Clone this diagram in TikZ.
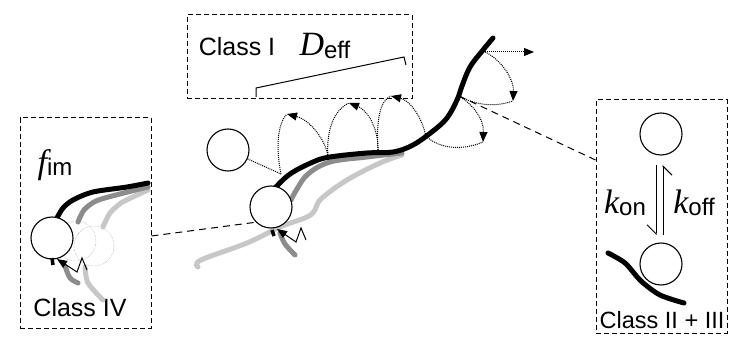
\documentclass[tikz,border=0pt]{standalone}
\usepackage{fontspec}
\setmainfont{Liberation Sans}
\newfontfamily\serifit{Liberation Serif}
\usetikzlibrary{arrows.meta}
\tikzset{>/.tip={Triangle[length=10pt,width=8pt]}}
\newcommand{\rate}[2]{{\fontsize{34}{34}\selectfont\serifit\itshape #1}\raisebox{-0.25em}{\fontsize{24}{24}\selectfont #2}}
\colorlet{midgray}{black!45}
\colorlet{lightgray}{black!22}

\begin{document}
\begin{tikzpicture}[x=1pt,y=-1pt,
  bead/.style={draw,circle,minimum size=42pt,inner sep=0pt,fill=white,line width=1.1pt},
  ghost/.style={draw=black!50,densely dotted,circle,minimum size=40pt,inner sep=0pt},
  frame/.style={draw,dash pattern=on 5pt off 3pt,line width=1pt,inner sep=0pt},
  link/.style={dash pattern=on 7pt off 5pt,line width=1pt},
  hop/.style={densely dotted,line width=1pt},
  fil/.style={line width=5pt,line cap=round},
  lab/.style={font=\fontsize{25}{25}\selectfont,inner sep=0pt}]
\useasboundingbox (0,0) rectangle (731,339);

% frames
\node[frame,minimum width=131pt,minimum height=210pt] (boxIV) at (85.5,223) {};
\node[frame,minimum width=225pt,minimum height=84pt] (boxI) at (299.5,57) {};
\node[frame,minimum width=131pt,minimum height=233pt] (boxII) at (661.5,216.5) {};

\node[lab] (classIV) at (80,308) {Class IV};
\node[lab] (classI) at (237,47) {Class I};
\node[lab,font=\fontsize{23.5}{24}\selectfont] (classII) at (662,320) {Class II + III};
\node[inner sep=0pt] (fim) at (55,165) {\rate{f}{im}};
\node[inner sep=0pt] (deff) at (325,46) {\rate{D}{eff}};
\node[inner sep=0pt] (kon) at (625,203) {\rate{k}{on}};
\node[inner sep=0pt] (koff) at (694,203) {\rate{k}{off}};

% length bracket
\draw[line width=1pt] (256,97) -- (256,88) -- (404,57) -- (406,65);

% --- class IV panel
\node[ghost] (ghostA) at (76,241) {};
\node[ghost] (ghostB) at (94,246) {};
\draw[fil,lightgray] plot[smooth] coordinates {(85,267) (88,283) (103,300)};
\draw[fil,midgray] plot[smooth] coordinates {(65,266) (70,278) (78,283)};
\draw[fil,lightgray] plot[smooth] coordinates {(103,227) (110,213) (121,203) (135,196) (148,190)};
\draw[fil,midgray] plot[smooth] coordinates {(78,222) (84,210) (96,201) (116,195) (148,187)};
\draw[fil,black] plot[smooth] coordinates {(57,218) (63,208) (73,200) (93,192) (127,187) (148,183)};
\node[bead] (beadIV) at (52,238) {};
\draw[line width=3.5pt] (52,258) -- (53,265);
\draw[->,line width=1pt] (87,270) -- (82,258) -- (77,272) -- (57,259);

% --- class I: sliding along the filament
\draw[fil,lightgray] plot[smooth,tension=0.6] coordinates {(198,267) (201,260) (247,243) (280,227) (307,217) (315,210) (321,199) (347,180) (380,163) (402,155)};
\draw[fil,midgray] plot[smooth,tension=0.6] coordinates {(280,233) (285,244) (295,255)};
\draw[fil,midgray] plot[smooth,tension=0.6] coordinates {(291,200) (297,189) (308,174) (330,162) (367,157) (402,153)};
\draw[fil,black] plot[smooth,tension=0.6] coordinates {(275,188) (290,174) (313,162) (330,157) (367,153) (393,152) (413,145) (433,131) (447,118) (457,100) (462,86) (470,67) (483,50) (493,38)};
\node[bead] (free) at (228,150) {};
\node[bead] (bound) at (271,207) {};
\draw[line width=3.5pt] (272,230) -- (274,236);
\draw[->,line width=1pt] (306,240) -- (301,228) -- (296,242) -- (277,229);

\coordinate (P1) at (281,174);
\coordinate (P2) at (328,157);
\coordinate (P3) at (378,152);
\coordinate (P4) at (426,136);
\coordinate (P5) at (459,96);
\coordinate (P6) at (485,52);
\coordinate (T1) at (287,114);
\coordinate (T2) at (349,103);
\coordinate (T3) at (391,96);
\coordinate (T4) at (483,142);
\coordinate (T5) at (513,101);
\coordinate (T6) at (534,52);

\draw[hop] (free) -- (P1);
\draw[hop] (P1) .. controls (276,150) and (277,124) .. (T1);
\draw[hop,->] (P2) .. controls (326,140) and (310,120) .. (T1);
\draw[hop] (P2) .. controls (326,130) and (334,110) .. (T2);
\draw[hop,->] (P3) .. controls (379,128) and (367,110) .. (T2);
\draw[hop] (P3) .. controls (376,120) and (380,100) .. (T3);
\draw[hop,->] (P4) .. controls (420,112) and (408,100) .. (T3);
\draw[hop] (P4) .. controls (440,150) and (465,150) .. (T4);
\draw[hop,->] (P5) .. controls (472,104) and (484,118) .. (T4);
\draw[hop] (P5) .. controls (478,106) and (495,107) .. (T5);
\draw[hop,->] (P6) .. controls (502,60) and (514,80) .. (T5);
\draw[hop,->] (P6) -- (T6);

% --- class II + III: binding and release
\node[bead] (upper) at (661,134) {};
\node[bead] (lower) at (661,264) {};
\draw[fil,black] plot[smooth] coordinates {(608,253) (625,263) (641,281) (660,295) (684,303)};
\draw[line width=1pt,-{Straight Barb[right,length=9pt,width=18pt]}] (656,165) -- (656,235);
\draw[line width=1pt,-{Straight Barb[right,length=9pt,width=18pt]}] (663,235) -- (663,165);

% links from the panels
\coordinate (outIV) at (boxIV.east |- 0,236);
\coordinate (inII) at (boxII.west |- 0,160);
\draw[link] (outIV) -- (bound.225);
\draw[link] (P5) -- (inII);
\end{tikzpicture}
\end{document}
